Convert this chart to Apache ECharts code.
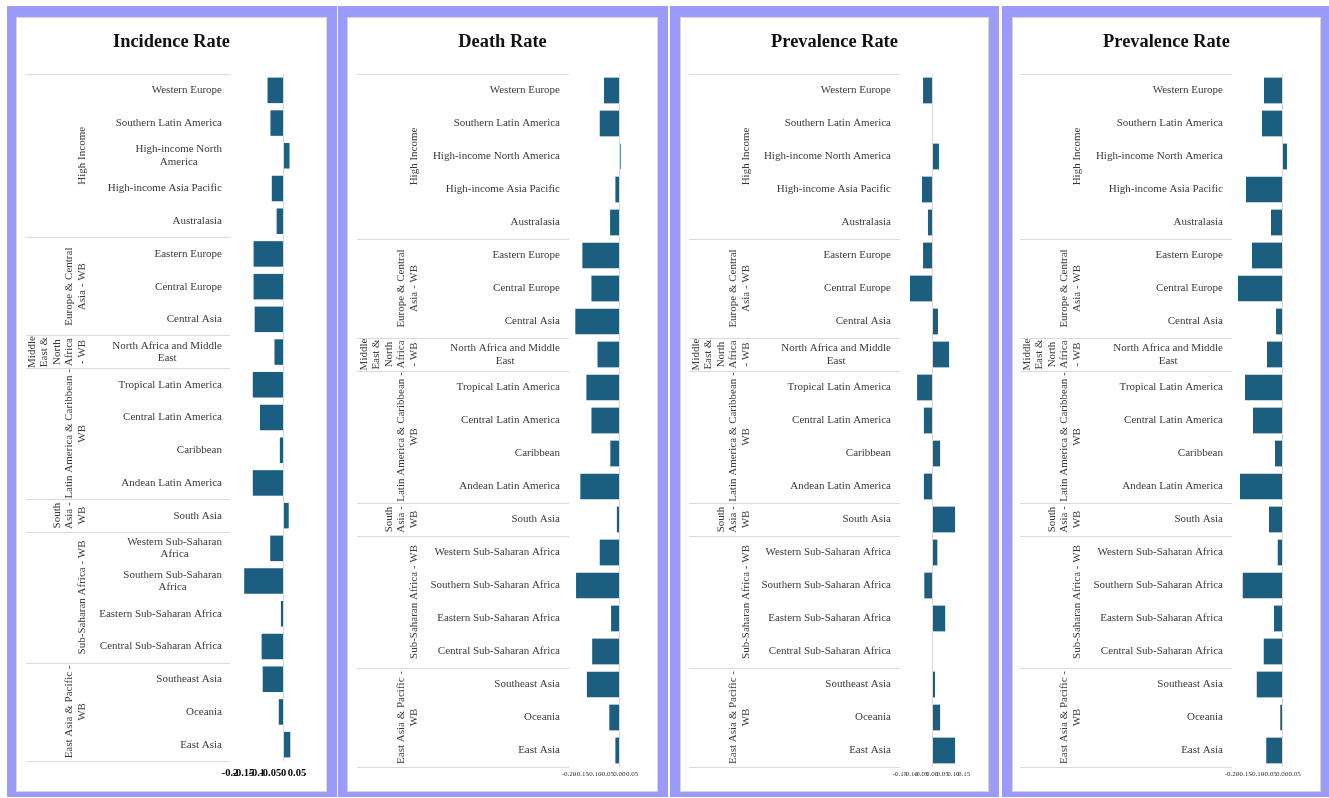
<!DOCTYPE html>
<html>
<head>
<meta charset="utf-8">
<script src="https://cdn.jsdelivr.net/npm/echarts@6/dist/echarts.min.js"></script>
<style>
body { margin: 0; background: #fff; }
.frame { position: absolute; background: #9b9bfc; }
.inner { position: absolute; background: #fff; border: 1px solid #d6d6d6; box-sizing: border-box; }
#container { position: absolute; left: 0; top: 0; width: 1329px; height: 798px; }
</style>
</head>
<body>
<div class="frame" style="left:7px;top:6px;width:330px;height:791px"></div>
<div class="inner" style="left:16px;top:17px;width:311px;height:775px"></div>
<div class="frame" style="left:338px;top:6px;width:330px;height:791px"></div>
<div class="inner" style="left:347px;top:17px;width:311px;height:775px"></div>
<div class="frame" style="left:670px;top:6px;width:329px;height:791px"></div>
<div class="inner" style="left:680px;top:17px;width:309px;height:775px"></div>
<div class="frame" style="left:1002px;top:6px;width:327px;height:791px"></div>
<div class="inner" style="left:1012px;top:17px;width:309px;height:775px"></div>
<div id="container"></div>
<script>
var regions = ['Western Europe', 'Southern Latin America', 'High-income North America', 'High-income Asia Pacific', 'Australasia',
    'Eastern Europe', 'Central Europe', 'Central Asia',
    'North Africa and Middle East',
    'Tropical Latin America', 'Central Latin America', 'Caribbean', 'Andean Latin America',
    'South Asia',
    'Western Sub-Saharan Africa', 'Southern Sub-Saharan Africa', 'Eastern Sub-Saharan Africa', 'Central Sub-Saharan Africa',
    'Southeast Asia', 'Oceania', 'East Asia'];
var groupNames = ['High Income', 'Europe & Central\nAsia - WB', 'Middle\nEast &\nNorth\nAfrica\n- WB',
    'Latin America & Caribbean -\nWB', 'South\nAsia -\nWB', 'Sub-Saharan Africa - WB', 'East Asia & Pacific -\nWB'];
var groupSizes = [5, 3, 1, 4, 1, 4, 3];

var incidenceRate = [-0.060, -0.049, 0.022, -0.044, -0.026, -0.112, -0.112, -0.108, -0.034, -0.115, -0.088,
    -0.014, -0.115, 0.019, -0.050, -0.147, -0.010, -0.082, -0.078, -0.018, 0.025];
var deathRate = [-0.061, -0.078, 0.005, -0.016, -0.037, -0.147, -0.111, -0.175, -0.087, -0.131, -0.111,
    -0.036, -0.155, -0.010, -0.078, -0.172, -0.033, -0.108, -0.129, -0.040, -0.016];
var prevalenceRate = [-0.042, 0, 0.033, -0.047, -0.019, -0.042, -0.103, 0.028, 0.080, -0.070, -0.038,
    0.038, -0.038, 0.108, 0.025, -0.036, 0.062, 0, 0.014, 0.038, 0.108];
var prevalenceRate2 = [-0.072, -0.080, 0.020, -0.144, -0.044, -0.120, -0.176, -0.024, -0.060, -0.148, -0.116,
    -0.028, -0.168, -0.052, -0.017, -0.157, -0.032, -0.073, -0.101, -0.007, -0.063];

// tick values of the x axes
var ticksA = [-0.2, -0.15, -0.1, -0.05, 0, 0.05];
var ticksB = [-0.15, -0.1, -0.05, 0, 0.05, 0.1, 0.15];

// group boundaries / centres on a 0..21 scale
var bounds = [0], centres = [];
groupSizes.forEach(function (n) {
    var b = bounds[bounds.length - 1];
    centres.push(b + n / 2);
    bounds.push(b + n);
});

var serif = 'Liberation Serif';
var bigTicks = { fontSize: 10.5, fontWeight: 'bold', color: '#000', margin: 7 };
var smallTicks = { fontSize: 7, fontWeight: 'normal', color: '#333', margin: 4 };
var wrapNarrow = ['High-income North America', 'North Africa and Middle East', 'Western Sub-Saharan Africa', 'Southern Sub-Saharan Africa'];
var wrapWide = ['North Africa and Middle East'];

var panels = [
    { title: 'Incidence Rate', data: incidenceRate, cx: 171.5, left: 230, width: 67, height: 687,
      ticks: ticksA, digits: 0, tickStyle: bigTicks, wrap: wrapNarrow, sep: 204, gMargin: 142, cMargin: 8 },
    { title: 'Death Rate', data: deathRate, cx: 502.5, left: 569, width: 63, height: 693,
      ticks: ticksA, digits: 2, tickStyle: smallTicks, wrap: wrapWide, sep: 212, gMargin: 149, cMargin: 9 },
    { title: 'Prevalence Rate', data: prevalenceRate, cx: 834.5, left: 900, width: 64, height: 693,
      ticks: ticksB, digits: 2, tickStyle: smallTicks, wrap: wrapWide, sep: 211, gMargin: 148, cMargin: 9 },
    { title: 'Prevalence Rate', data: prevalenceRate2, cx: 1166.5, left: 1232, width: 62.5, height: 693,
      ticks: ticksA, digits: 2, tickStyle: smallTicks, wrap: wrapWide, sep: 212, gMargin: 149, cMargin: 9 }
];

var option = { animation: false, title: [], grid: [], xAxis: [], yAxis: [], series: [] };

// the tick labels overlap each other like in the source, so they are split over
// two stacked x axes (odd / even ticks) to stop the overlap hiding
function xAxisFor(p, k, part) {
    var st = p.tickStyle;
    return {
        type: 'value', gridIndex: k, position: 'bottom', offset: 0,
        min: p.ticks[0], max: p.ticks[p.ticks.length - 1], interval: 0.05,
        axisLine: { show: false, onZero: false }, axisTick: { show: false }, splitLine: { show: false },
        axisLabel: {
            customValues: p.ticks.filter(function (t, i) { return i % 2 === part; }),
            fontFamily: serif, fontSize: st.fontSize, fontWeight: st.fontWeight,
            color: st.color, margin: st.margin, hideOverlap: false, interval: 0,
            showMinLabel: true, showMaxLabel: true,
            formatter: function (v) { return p.digits ? v.toFixed(p.digits) : String(+v.toFixed(2)); }
        }
    };
}

panels.forEach(function (p, k) {
    option.title.push({
        text: p.title, left: p.cx, top: 33, textAlign: 'center', padding: 0,
        textStyle: { fontFamily: serif, fontSize: 18.4, fontWeight: 'bold', color: '#111' }
    });
    option.grid.push({ left: p.left, top: 74, width: p.width, height: p.height, outerBoundsMode: 'none' });
    option.xAxis.push(xAxisFor(p, k, 0), xAxisFor(p, k, 1));
    // region names
    option.yAxis.push({
        type: 'category', gridIndex: k, data: regions, inverse: true, position: 'left',
        axisLine: { show: false, onZero: false }, axisTick: { show: false },
        axisLabel: {
            interval: 0, margin: p.cMargin, fontFamily: serif, fontSize: 11, color: '#3a3a3a', lineHeight: 12.5,
            formatter: function (name) {
                var lines = [name];
                if (p.wrap.indexOf(name) >= 0) {
                    var i = name.lastIndexOf(' ');
                    lines = [name.slice(0, i), name.slice(i + 1)];
                }
                return lines.map(function (l) { return '{c|' + l + '}'; }).join('\n');
            },
            rich: { c: { align: 'center', fontFamily: serif, fontSize: 11, color: '#3a3a3a', lineHeight: 12.5 } }
        }
    });
    // region groups + separators
    option.yAxis.push({
        type: 'value', gridIndex: k, min: 0, max: bounds[bounds.length - 1], inverse: true, position: 'left',
        axisLine: { show: false, onZero: false }, splitLine: { show: false },
        axisTick: { show: true, customValues: bounds, length: p.sep, inside: false,
            lineStyle: { color: '#d9d9d9', width: 1 } },
        axisLabel: {
            customValues: centres, rotate: 90, margin: p.gMargin, hideOverlap: false,
            fontFamily: serif, fontSize: 11, lineHeight: 12.5, color: '#3a3a3a',
            formatter: function (v) {
                var i = centres.indexOf(v);
                return i >= 0 ? groupNames[i] : '';
            }
        }
    });
    option.series.push({
        type: 'bar', xAxisIndex: 2 * k, yAxisIndex: 2 * k, data: p.data,
        barCategoryGap: '22%', itemStyle: { color: '#1b5e7f' },
        markLine: {
            silent: true, symbol: 'none', label: { show: false },
            lineStyle: { color: '#d9d9d9', type: 'solid', width: 1 },
            data: [{ xAxis: 0 }]
        }
    });
});

var myChart = echarts.init(document.getElementById('container'));
myChart.setOption(option);
</script>
</body>
</html>
